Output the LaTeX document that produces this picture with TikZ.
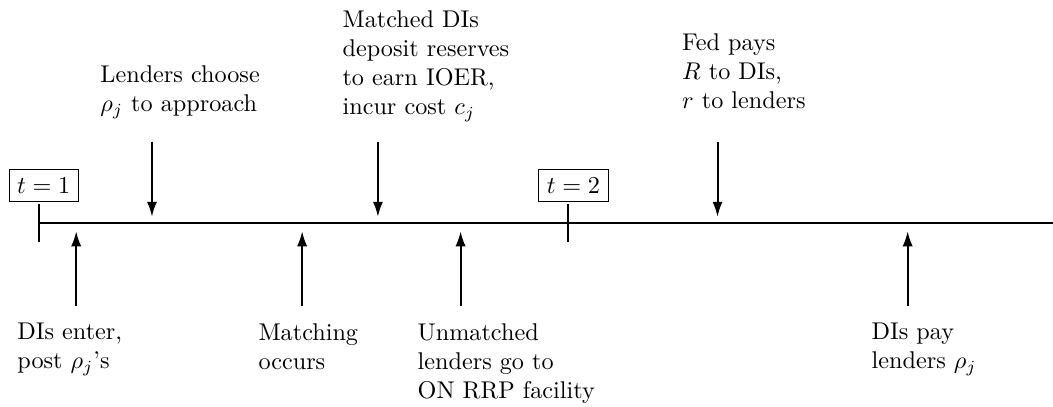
\documentclass[tikz,border=0pt]{standalone}
\usetikzlibrary{positioning,arrows.meta}

\tikzset{
  evento/.style={anchor=north west, align=left, inner sep=0pt},
  tiempo/.style={draw, thin, inner sep=3.33pt},
  flecha/.style={thick, -{Latex[length=6.2pt,width=4.2pt]}},
}

\begin{document}
\begin{tikzpicture}

\useasboundingbox (-0.566,-2.67) rectangle (14.72,3.237);

% Dibuja la linea de tiempo
\coordinate (inicio) at (0,0);
\coordinate (fin) at (14.72,0);
\draw[thick] (inicio) -- (fin);

% Marca los periodos
\coordinate (m1a) at (0,0.27);
\coordinate (m1b) at (0,-0.27);
\coordinate (m2a) at (7.68,0.27);
\coordinate (m2b) at (7.68,-0.27);
\draw[thick] (m1a) -- (m1b);
\draw[thick] (m2a) -- (m2b);

% Etiqueta los periodos
\node[tiempo] (t1) at (0.07,0.54) {$t=1$};
\node[tiempo] (t2) at (7.76,0.54) {$t=2$};

% Eventos arriba
\node[evento] (lenders) at (0.885,2.29) {Lenders choose\\ $\rho_j$ to approach};
\node[evento] (matched) at (4.40,3.09) {Matched DIs\\ deposit reserves\\ to earn IOER,\\ incur cost $c_j$};
\node[evento] (fed) at (9.33,2.75) {Fed pays\\ $R$ to DIs,\\ $r$ to lenders};

\coordinate (a1) at (1.64,1.18);
\coordinate (b1) at (1.64,0.09);
\coordinate (a2) at (4.92,1.18);
\coordinate (b2) at (4.92,0.09);
\coordinate (a3) at (9.85,1.18);
\coordinate (b3) at (9.85,0.09);
\draw[flecha] (a1) -- (b1);
\draw[flecha] (a2) -- (b2);
\draw[flecha] (a3) -- (b3);

% Eventos abajo
\node[evento] (enter) at (-0.32,-1.45) {DIs enter,\\ post $\rho_j$'s};
\node[evento] (matching) at (3.18,-1.45) {Matching\\ occurs};
\node[evento] (unmatched) at (5.49,-1.45) {Unmatched\\ lenders go to\\ ON RRP facility};
\node[evento] (pay) at (12.08,-1.45) {DIs pay\\ lenders $\rho_j$};

\coordinate (c1) at (0.54,-1.2);
\coordinate (d1) at (0.54,-0.12);
\coordinate (c2) at (3.82,-1.2);
\coordinate (d2) at (3.82,-0.12);
\coordinate (c3) at (6.12,-1.2);
\coordinate (d3) at (6.12,-0.12);
\coordinate (c4) at (12.61,-1.2);
\coordinate (d4) at (12.61,-0.12);
\draw[flecha] (c1) -- (d1);
\draw[flecha] (c2) -- (d2);
\draw[flecha] (c3) -- (d3);
\draw[flecha] (c4) -- (d4);

\end{tikzpicture}
\end{document}
